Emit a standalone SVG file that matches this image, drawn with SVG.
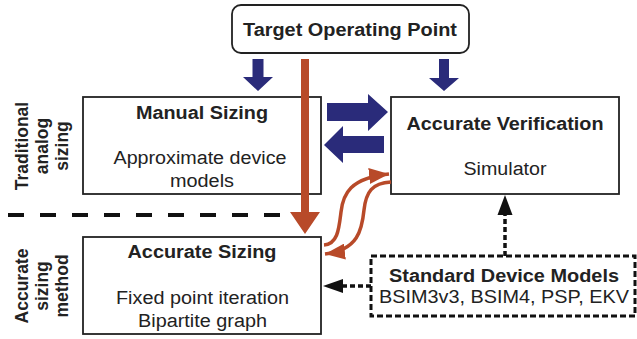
<svg xmlns="http://www.w3.org/2000/svg" width="637" height="339" viewBox="0 0 637 339">
  <defs>
    <style>
      .box { fill: #ffffff; stroke: #222222; stroke-width: 1.8; }
      .dbox { fill: #ffffff; stroke: #111111; stroke-width: 3; stroke-dasharray: 6 3; }
      .title { font-family: "Liberation Sans", Arial, sans-serif; font-weight: bold; font-size: 18px; fill: #222222; text-anchor: middle; }
      .body { font-family: "Liberation Sans", Arial, sans-serif; font-size: 18px; fill: #222222; text-anchor: middle; }
      .side { font-family: "Liberation Sans", Arial, sans-serif; font-weight: bold; font-size: 17.5px; fill: #222222; text-anchor: middle; }
      .blue { fill: #2a2b7a; }
      .rust { fill: #b84a29; }
      .curve { fill: none; stroke: #b84a29; stroke-width: 3.5; }
      .dline { fill: none; stroke: #111111; stroke-width: 3.5; stroke-dasharray: 5 3; }
    </style>
    <marker id="rustHead" markerUnits="userSpaceOnUse" markerWidth="22" markerHeight="16" refX="20" refY="8" orient="auto">
      <path d="M0,0 L20,8 L0,16 Z" fill="#b84a29"/>
    </marker>
  </defs>

  <!-- section labels -->
  <g id="label-traditional" transform="translate(28,146) scale(1.1,1) rotate(-90)">
    <text class="side"><tspan x="0" y="0">Traditional</tspan><tspan x="0" y="18.5">analog</tspan><tspan x="0" y="36.5">sizing</tspan></text>
  </g>
  <g id="label-accurate" transform="translate(28,286) scale(1.1,1) rotate(-90)">
    <text class="side"><tspan x="0" y="0">Accurate</tspan><tspan x="0" y="18.5">sizing</tspan><tspan x="0" y="36.5">method</tspan></text>
  </g>

  <!-- separator between the two methods -->
  <line x1="8" y1="215" x2="282" y2="215" stroke="#111111" stroke-width="4" stroke-dasharray="16 16"/>

  <!-- nodes -->
  <g id="target">
    <rect class="box" x="232" y="5" width="237" height="48" rx="9"/>
    <text class="title" x="350" y="36" textLength="214" lengthAdjust="spacingAndGlyphs">Target Operating Point</text>
  </g>

  <g id="manual-sizing">
    <rect class="box" x="83" y="97" width="238" height="97"/>
    <text class="title" x="202" y="119" textLength="132" lengthAdjust="spacingAndGlyphs">Manual Sizing</text>
    <text class="body" x="200" y="164" textLength="173" lengthAdjust="spacingAndGlyphs">Approximate device</text>
    <text class="body" x="202" y="187" textLength="64" lengthAdjust="spacingAndGlyphs">models</text>
  </g>

  <g id="accurate-verification">
    <rect class="box" x="391" y="97" width="228" height="97"/>
    <text class="title" x="505" y="130" textLength="197" lengthAdjust="spacingAndGlyphs">Accurate Verification</text>
    <text class="body" x="505" y="175" textLength="83" lengthAdjust="spacingAndGlyphs">Simulator</text>
  </g>

  <g id="accurate-sizing">
    <rect class="box" x="83" y="237" width="238" height="97"/>
    <text class="title" x="202" y="258" textLength="149" lengthAdjust="spacingAndGlyphs">Accurate Sizing</text>
    <text class="body" x="202.5" y="304" textLength="173" lengthAdjust="spacingAndGlyphs">Fixed point iteration</text>
    <text class="body" x="202.5" y="327" textLength="129" lengthAdjust="spacingAndGlyphs">Bipartite graph</text>
  </g>

  <g id="device-models">
    <rect class="dbox" x="371" y="256" width="264" height="60"/>
    <text class="title" x="504" y="282" textLength="230" lengthAdjust="spacingAndGlyphs">Standard Device Models</text>
    <text class="body" x="504" y="303" textLength="250" lengthAdjust="spacingAndGlyphs">BSIM3v3, BSIM4, PSP, EKV</text>
  </g>

  <!-- connectors -->
  <g id="connectors">
    <!-- target to manual sizing / verification -->
    <polygon class="blue" points="252.5,59 263.5,59 263.5,77 273,77 258,91 243,77 252.5,77"/>
    <polygon class="blue" points="439,59 449,59 449,78 459,78 444,91 429,78 439,78"/>
    <!-- manual sizing <-> verification loop -->
    <polygon class="blue" points="327,103 368,103 368,94 388,112 368,131 368,121 327,121"/>
    <polygon class="blue" points="384,136 343,136 343,126 324,145 343,163 343,153 384,153"/>
    <!-- target to accurate sizing -->
    <polygon class="rust" points="301,59 309,59 309,212 320,212 305,234 290,212 301,212"/>
    <!-- accurate sizing <-> verification -->
    <path class="curve" d="M324,245 C338,244 339,228 341,212 C343,194 350,178 389,174" marker-end="url(#rustHead)"/>
    <path class="curve" d="M391,182 C372,183 366,192 364,210 C362,230 358,250 325,254" marker-end="url(#rustHead)"/>
    <!-- device models to verification -->
    <line class="dline" x1="505" y1="256" x2="505" y2="214"/>
    <polygon fill="#111111" points="505,195 512.5,215 497.5,215"/>
    <!-- device models to accurate sizing -->
    <line class="dline" x1="371" y1="286" x2="342" y2="286"/>
    <polygon fill="#111111" points="323,286 343,279 343,293"/>
  </g>
</svg>
